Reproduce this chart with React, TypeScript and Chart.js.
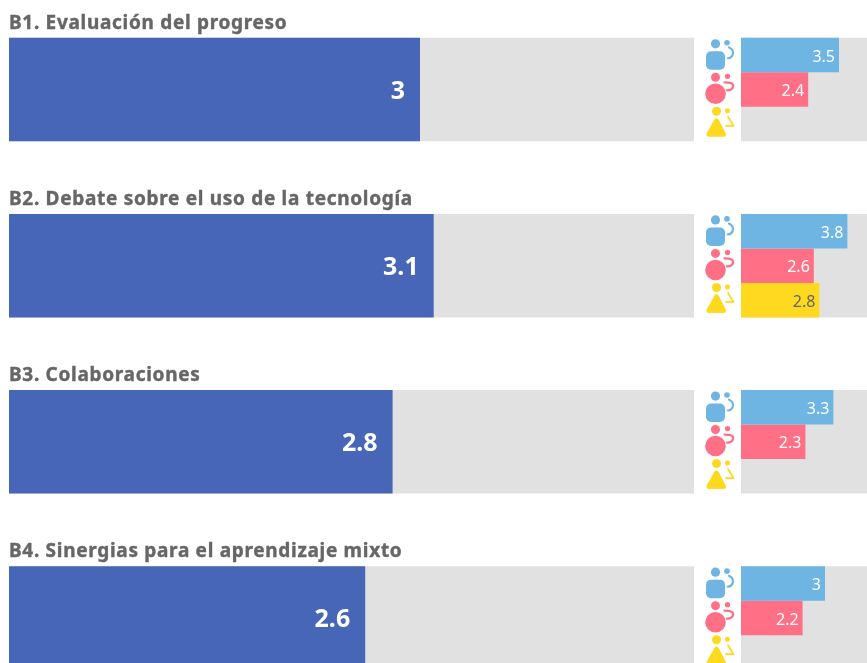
import React, { useEffect, useRef } from "react";
import { Chart, registerables } from "chart.js";

Chart.register(...registerables);

const categories = [
  "B1. Evaluación del progreso",
  "B2. Debate sobre el uso de la tecnología",
  "B3. Colaboraciones",
  "B4. Sinergias para el aprendizaje mixto",
];
const overall = [3, 3.1, 2.8, 2.6];
const male = [3.5, 3.8, 3.3, 3];
const female = [2.4, 2.6, 2.3, 2.2];
const other: (number | null)[] = [null, 2.8, null, null];
const scaleMax = [5, 5, 5, 5];

const BLUE = "#6FB5E4";
const PINK = "#FF6F86";
const YELLOW = "#FFD91F";
const MAIN = "#4766B8";
const TRACK = "#E1E1E1";
const FONT = '"Noto Sans", sans-serif';

const leftLabels = {
  id: "leftLabels",
  afterDatasetsDraw(chart: any) {
    const { ctx, scales } = chart;
    ctx.save();
    categories.forEach((t, i) => {
      const cy = scales.y.getPixelForValue(i);
      ctx.font = `bold 19px ${FONT}`;
      ctx.letterSpacing = "0.7px";
      ctx.fillStyle = "#666666";
      ctx.strokeStyle = "#666666";
      ctx.lineWidth = 0.4;
      ctx.textAlign = "left";
      ctx.textBaseline = "alphabetic";
      ctx.fillText(t, 9, cy - 61);
      ctx.strokeText(t, 9, cy - 61);
      ctx.font = `bold 25px ${FONT}`;
      ctx.letterSpacing = "0px";
      ctx.fillStyle = "#FFFFFF";
      ctx.textAlign = "right";
      ctx.textBaseline = "middle";
      ctx.fillText(String(overall[i]), scales.x.getPixelForValue(overall[i]) - 15, cy + 2);
    });
    ctx.restore();
  },
};

function dot(ctx: any, x: number, y: number, r: number) {
  ctx.beginPath();
  ctx.arc(x, y, r, 0, Math.PI * 2);
  ctx.fill();
}

function drawIcon(ctx: any, kind: number, x: number, y: number, color: string) {
  // x, y: left edge of the icon column and top of the row
  ctx.fillStyle = color;
  ctx.strokeStyle = color;
  ctx.lineWidth = 2.2;
  ctx.lineCap = "round";
  ctx.lineJoin = "round";
  if (kind === 0) {
    dot(ctx, x + 9.5, y + 6, 4.6);
    ctx.beginPath();
    ctx.roundRect(x, y + 13.5, 19, 18.5, 5);
    ctx.fill();
    dot(ctx, x + 21, y + 5, 2.8);
    ctx.beginPath();
    ctx.arc(x + 21.5, y + 15, 5.5, -1.3, 1.5);
    ctx.stroke();
  } else if (kind === 1) {
    dot(ctx, x + 9.5, y + 5, 4.5);
    dot(ctx, x + 9.5, y + 21.5, 10.3);
    dot(ctx, x + 21.5, y + 4, 2.6);
    ctx.beginPath();
    ctx.moveTo(x + 18.5, y + 10);
    ctx.quadraticCurveTo(x + 28, y + 10, x + 27, y + 14);
    ctx.quadraticCurveTo(x + 26.5, y + 18, x + 21, y + 18);
    ctx.stroke();
  } else {
    dot(ctx, x + 10.5, y + 4.5, 4.5);
    dot(ctx, x + 21.5, y + 4, 2.5);
    ctx.beginPath();
    ctx.moveTo(x + 10.5, y + 14);
    ctx.lineTo(x + 17.5, y + 27.5);
    ctx.lineTo(x + 3, y + 27.5);
    ctx.closePath();
    ctx.lineWidth = 5;
    ctx.fill();
    ctx.stroke();
    ctx.lineWidth = 1.8;
    ctx.beginPath();
    ctx.moveTo(x + 22, y + 10);
    ctx.lineTo(x + 27.5, y + 19);
    ctx.lineTo(x + 20, y + 19);
    ctx.stroke();
  }
}

const rightLabels = {
  id: "rightLabels",
  afterDatasetsDraw(chart: any) {
    const { ctx, scales } = chart;
    const iconColors = [BLUE, PINK, YELLOW];
    ctx.save();
    [0, 1, 2].forEach((d) => {
      const meta = chart.getDatasetMeta(d);
      const values = chart.data.datasets[d].data;
      meta.data.forEach((bar: any, i: number) => {
        const left = scales.x.left - 35;
        drawIcon(ctx, d, left, bar.y - bar.height / 2, iconColors[d]);
        if (values[i] == null) return;
        ctx.font = `16px ${FONT}`;
        ctx.fillStyle = d === 2 ? "#666666" : "#FFFFFF";
        ctx.textAlign = "right";
        ctx.textBaseline = "middle";
        ctx.fillText(String(values[i]), bar.x - 4, bar.y + 2);
      });
    });
    ctx.restore();
  },
};

export default function App() {
  const leftRef = useRef<HTMLCanvasElement>(null);
  const rightRef = useRef<HTMLCanvasElement>(null);

  useEffect(() => {
    const common = {
      responsive: false,
      animation: false as const,
      indexAxis: "y" as const,
      plugins: { legend: { display: false }, tooltip: { enabled: false } },
    };
    const barOpts = { categoryPercentage: 0.588, barPercentage: 1 };
    const left = new Chart(leftRef.current!, {
      type: "bar",
      data: {
        labels: categories,
        datasets: [
          { data: overall, backgroundColor: MAIN, grouped: false, order: 1, ...barOpts },
          { data: scaleMax, backgroundColor: TRACK, grouped: false, order: 2, ...barOpts },
        ],
      } as any,
      options: {
        ...common,
        layout: { padding: { left: 9, right: 0, top: 1.5, bottom: 0 } },
        scales: { x: { display: false, min: 0, max: 5 }, y: { display: false } },
      } as any,
      plugins: [leftLabels],
    });
    const right = new Chart(rightRef.current!, {
      type: "bar",
      data: {
        labels: categories,
        datasets: [
          { data: male, backgroundColor: BLUE, order: 1, ...barOpts },
          { data: female, backgroundColor: PINK, order: 1, ...barOpts },
          { data: other, backgroundColor: YELLOW, order: 1, ...barOpts },
          { data: scaleMax, backgroundColor: TRACK, grouped: false, order: 2, ...barOpts },
        ],
      } as any,
      options: {
        ...common,
        layout: { padding: { left: 47, right: 0, top: 1.5, bottom: 0 } },
        scales: { x: { display: false, min: 0, max: 5 }, y: { display: false } },
      } as any,
      plugins: [rightLabels],
    });
    return () => {
      left.destroy();
      right.destroy();
    };
  }, []);

  return (
    <div style={{ position: "fixed", left: 0, top: 0, width: 867, height: 663, overflow: "hidden", background: "#FFFFFF" }}>
      <canvas ref={leftRef} width={694} height={706} style={{ position: "absolute", left: 0, top: 0 }} />
      <canvas ref={rightRef} width={187} height={706} style={{ position: "absolute", left: 694, top: 0 }} />
    </div>
  );
}
